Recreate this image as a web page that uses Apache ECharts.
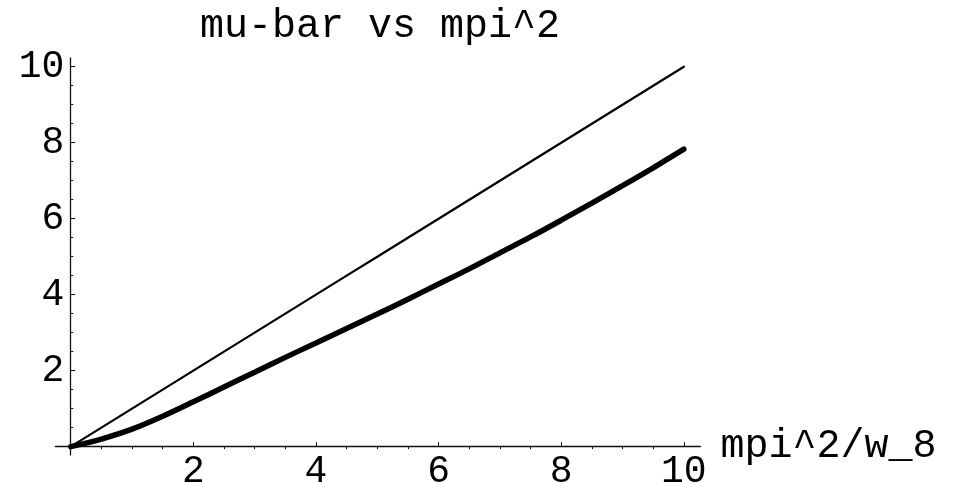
<!DOCTYPE html>
<html>
<head>
<meta charset="utf-8">
<title>mu-bar vs mpi^2</title>
<script src="https://cdn.jsdelivr.net/npm/echarts@6/dist/echarts.min.js"></script>
<style>
  html, body { margin: 0; padding: 0; background: #fff; }
  #main { width: 960px; height: 482px; }
</style>
</head>
<body>
<div id="main"></div>
<script>
// x values (mpi^2/w_8)
const xValues = [0, 0.5, 1, 1.5, 2, 2.5, 3, 3.5, 4, 4.5, 5, 5.5, 6, 6.5, 7, 7.5, 8, 8.5, 9, 9.5, 10];
// thin line: reference y = x
const refLine = [0, 0.5, 1, 1.5, 2, 2.5, 3, 3.5, 4, 4.5, 5, 5.5, 6, 6.5, 7, 7.5, 8, 8.5, 9, 9.5, 10];
// thick curve: mu-bar
const muBar = [0, 0.2, 0.46, 0.8, 1.18, 1.57, 1.96, 2.35, 2.73, 3.11, 3.49, 3.88, 4.28, 4.68, 5.1, 5.52, 5.96, 6.41, 6.87, 7.34, 7.83];
// tick labels
const majorTicks = [2, 4, 6, 8, 10];
const minorTicks = [0.5, 1, 1.5, 2.5, 3, 3.5, 4.5, 5, 5.5, 6.5, 7, 7.5, 8.5, 9, 9.5];

const mono = 'Liberation Mono';

function pairs(xs, ys) {
  return xs.map((x, i) => [x, ys[i]]);
}

const chart = echarts.init(document.getElementById('main'));

const option = {
  animation: false,
  backgroundColor: '#fff',
  title: {
    text: 'mu-bar vs mpi^2',
    left: 375,
    top: 1,
    textAlign: 'center',
    textStyle: { fontFamily: mono, fontSize: 40, fontWeight: 'normal', color: '#000' }
  },
  grid: {
    left: 55.4,
    top: 58,
    width: 645,
    height: 397,
    outerBoundsMode: 'none'
  },
  xAxis: [
    {
      // major ticks + labels
      type: 'value',
      min: -0.25,
      max: 10.27,
      name: 'mpi^2/w_8',
      nameLocation: 'end',
      nameGap: 20,
      nameTextStyle: { fontFamily: mono, fontSize: 40, color: '#000', padding: [0, 0, 16, 0] },
      axisLine: { show: true, onZero: true, lineStyle: { color: '#111', width: 1.3 } },
      axisTick: { show: true, inside: true, length: 4.5, customValues: majorTicks, lineStyle: { color: '#111', width: 1 } },
      axisLabel: { customValues: majorTicks, margin: -2, fontFamily: mono, fontSize: 38, color: '#000' },
      splitLine: { show: false }
    },
    {
      // minor ticks
      type: 'value',
      min: -0.25,
      max: 10.27,
      axisLine: { show: false, onZero: true },
      axisTick: { show: true, inside: true, length: 2.5, customValues: minorTicks, lineStyle: { color: '#111', width: 1 } },
      axisLabel: { show: false },
      splitLine: { show: false }
    }
  ],
  yAxis: [
    {
      type: 'value',
      min: -0.22,
      max: 10.23,
      axisLine: { show: true, onZero: true, lineStyle: { color: '#111', width: 1.3 } },
      axisTick: { show: true, inside: true, length: 4.5, customValues: majorTicks, lineStyle: { color: '#111', width: 1 } },
      axisLabel: { customValues: majorTicks, margin: -9, fontFamily: mono, fontSize: 38, color: '#000' },
      splitLine: { show: false }
    },
    {
      type: 'value',
      min: -0.22,
      max: 10.23,
      position: 'left',
      axisLine: { show: false, onZero: true },
      axisTick: { show: true, inside: true, length: 2.5, customValues: minorTicks, lineStyle: { color: '#111', width: 1 } },
      axisLabel: { show: false },
      splitLine: { show: false }
    }
  ],
  series: [
    {
      name: 'y = x',
      type: 'line',
      xAxisIndex: 0,
      yAxisIndex: 0,
      data: pairs(xValues, refLine),
      showSymbol: false,
      lineStyle: { color: '#000', width: 2.2, cap: 'round' }
    },
    {
      name: 'mu-bar',
      type: 'line',
      xAxisIndex: 0,
      yAxisIndex: 0,
      data: pairs(xValues, muBar),
      smooth: 0.3,
      showSymbol: false,
      lineStyle: { color: '#000', width: 5.5, cap: 'round' }
    }
  ]
};

chart.setOption(option);
</script>
</body>
</html>
